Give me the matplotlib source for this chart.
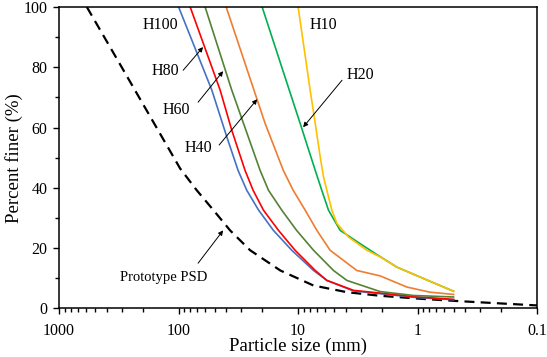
import numpy as np
import matplotlib ; matplotlib.use('Agg')
from matplotlib import pyplot as plt
from matplotlib.ticker import FixedLocator, FixedFormatter, LogLocator, MultipleLocator, NullFormatter

plt.rcParams['font.family'] = ['Liberation Serif', 'DejaVu Serif']

# particle size (mm) / percent finer (%)
proto_x = [586, 299, 153, 97, 70.5, 51.1, 37.1, 25.2, 14.1, 7.43, 3.91, 2.06, 0.94, 0.44, 0.1]
proto_y = [100, 80, 60, 46.4, 39.2, 32.6, 25.9, 19.3, 12.6, 7.6, 5.4, 4.2, 3.2, 2.4, 1.0]

h100_x = [100, 52.7, 39.5, 31.8, 26.9, 21.4, 16.1, 11.3, 7.43, 5.75, 3.44, 2.06, 1.08, 0.5]
h100_y = [100, 72.4, 56.9, 45.8, 39.2, 32.6, 25.9, 19.3, 12.6, 9.3, 5.8, 4.9, 3.7, 2.9]

h80_x = [80, 44.9, 35.9, 27.8, 23.8, 19.5, 14.6, 10.6, 7.19, 5.75, 3.44, 2.06, 1.08, 0.5]
h80_y = [100, 72.4, 59.1, 45.8, 39.2, 32.6, 25.9, 19.3, 12.6, 9.3, 6.0, 5.1, 3.9, 3.0]

h60_x = [60, 35.9, 29.6, 20.8, 17.7, 13.7, 10.3, 7.43, 5.06, 3.91, 2.06, 1.08, 0.5]
h60_y = [100, 72.4, 63.0, 45.8, 39.2, 32.6, 25.9, 19.3, 12.6, 9.3, 5.6, 4.3, 3.8]

h40_x = [40, 18.9, 13.3, 11.0, 8.73, 6.97, 5.40, 3.23, 2.06, 1.23, 0.79, 0.5]
h40_y = [100, 61.4, 45.8, 39.2, 32.6, 25.9, 19.3, 12.6, 10.8, 7.1, 5.4, 4.65]

h20_x = [20, 9.62, 7.19, 6.34, 5.57, 4.45, 3.03, 2.2, 1.49, 0.89, 0.5]
h20_y = [100, 61.4, 45.8, 39.2, 32.6, 25.9, 21.5, 17.9, 13.7, 9.9, 5.7]

h10_x = [10, 7.93, 7.19, 6.53, 6.13, 5.75, 5.22, 4.74, 3.79, 2.66, 2.06, 1.49, 0.89, 0.5]
h10_y = [100, 72.4, 61.4, 50.2, 43.6, 39.2, 32.6, 28.2, 23.7, 19.3, 17.1, 13.7, 9.9, 5.7]

xticks = [1000, 100, 10, 1, 0.1]
xlabels = ['1000', '100', '10', '1', '0.1']

fig = plt.figure(figsize=(5.47, 3.57), dpi=100)
ax = fig.add_axes([0.108, 0.136, 0.874, 0.8445])

lw = 1.2
ax.plot(proto_x, proto_y, color='k', lw=1.6, ls=(0, (4.5, 2.8)))
ax.plot(h100_x, h100_y, color='#4472C4', lw=lw, solid_joinstyle='round')
ax.plot(h80_x, h80_y, color='#FF0000', lw=lw, solid_joinstyle='round')
ax.plot(h60_x, h60_y, color='#548235', lw=lw, solid_joinstyle='round')
ax.plot(h40_x, h40_y, color='#ED7D31', lw=lw, solid_joinstyle='round')
ax.plot(h20_x, h20_y, color='#00B050', lw=lw, solid_joinstyle='round')
ax.plot(h10_x, h10_y, color='#FFC000', lw=lw, solid_joinstyle='round')

ax.set_xscale('log')
ax.set_xlim(1000, 0.1)
ax.set_ylim(0, 100)

ax.xaxis.set_major_locator(FixedLocator(xticks))
ax.xaxis.set_major_formatter(FixedFormatter(xlabels))
ax.xaxis.set_minor_locator(LogLocator(base=10, subs=np.arange(2, 10)))
ax.xaxis.set_minor_formatter(NullFormatter())
ax.yaxis.set_major_locator(MultipleLocator(20))
ax.yaxis.set_minor_locator(MultipleLocator(10))

ax.tick_params(which='both', direction='out', width=1.0, labelsize=11.5, color='k')
ax.tick_params(which='major', length=4.5)
ax.tick_params(which='minor', length=3)
ax.tick_params(axis='x', which='major', pad=6)
ax.tick_params(axis='y', which='major', pad=4)
for s in ax.spines.values():
    s.set_linewidth(1.1)

ax.set_xlabel('Particle size (mm)', fontsize=13.5, labelpad=-1)
ax.set_ylabel('Percent finer (%)', fontsize=13.5, labelpad=0)

# curve labels
fs = 11.5
arr = dict(arrowstyle='-|>', color='k', lw=0.7, mutation_scale=7, shrinkA=0, shrinkB=0)
ax.text(143, 94, 'H100', fontsize=fs, ha='center', va='center')
ax.text(130, 78.7, 'H80', fontsize=fs, ha='center', va='center')
ax.annotate('', xy=(62.4, 86.7), xytext=(91.6, 79), arrowprops=arr)
ax.text(105, 65.8, 'H60', fontsize=fs, ha='center', va='center')
ax.annotate('', xy=(42.4, 78.7), xytext=(68.7, 68.4), arrowprops=arr)
ax.text(68.7, 53.2, 'H40', fontsize=fs, ha='center', va='center')
ax.annotate('', xy=(22.0, 69.4), xytext=(45.8, 54.2), arrowprops=arr)
ax.text(6.18, 94, 'H10', fontsize=fs, ha='center', va='center')
ax.text(3.03, 77.4, 'H20', fontsize=fs, ha='center', va='center')
ax.annotate('', xy=(9.08, 60.1), xytext=(4.29, 75.7), arrowprops=arr)
ax.text(132, 10.3, 'Prototype PSD', fontsize=10.5, ha='center', va='center')
ax.annotate('', xy=(42.4, 25.9), xytext=(68.7, 15), arrowprops=arr)

plt.savefig('out.png', dpi=100)
